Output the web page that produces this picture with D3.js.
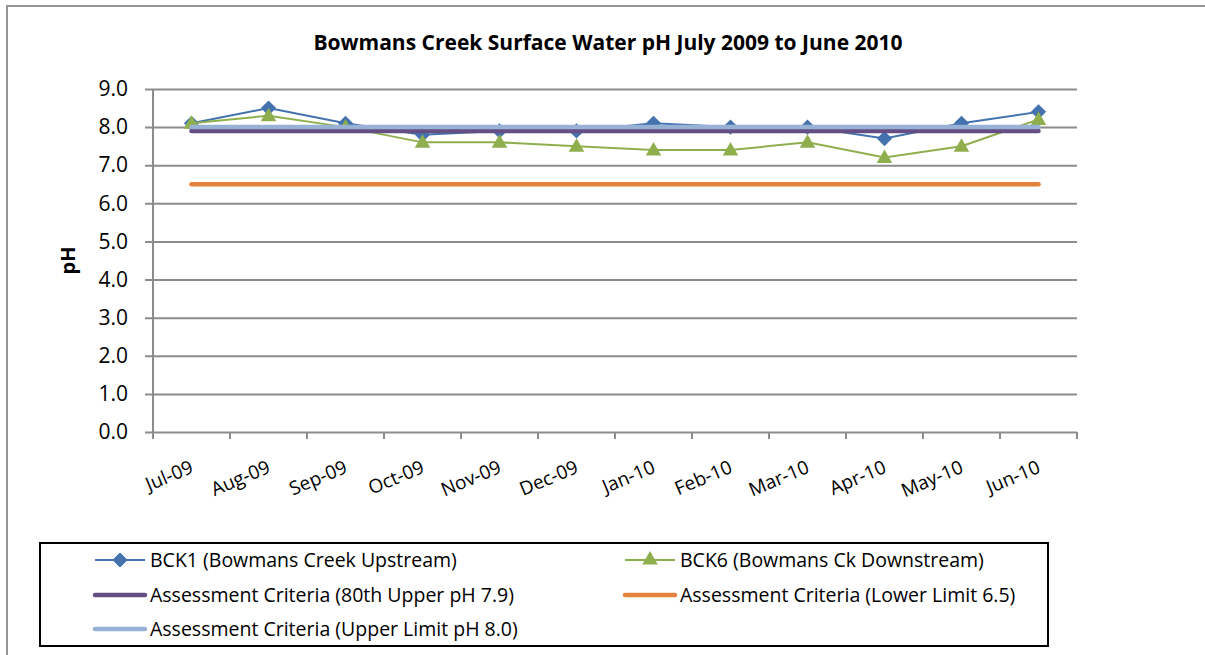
<!DOCTYPE html>
<html>
<head>
<meta charset="utf-8">
<script src="https://cdn.jsdelivr.net/npm/d3@7"></script>
<style>
  html, body { margin: 0; padding: 0; background: #fff; }
  svg { display: block; font-family: "Open Sans", "Noto Sans", sans-serif; }
</style>
</head>
<body>
<svg id="chart" width="1205" height="655"></svg>
<script>
// Monthly sampling dates
const months = ["Jul-09", "Aug-09", "Sep-09", "Oct-09", "Nov-09", "Dec-09",
                "Jan-10", "Feb-10", "Mar-10", "Apr-10", "May-10", "Jun-10"];

// Field pH readings
const bck1 = [8.1, 8.5, 8.1, 7.8, 7.9, 7.9, 8.1, 8.0, 8.0, 7.7, 8.1, 8.4];
const bck6 = [8.1, 8.3, 8.0, 7.6, 7.6, 7.5, 7.4, 7.4, 7.6, 7.2, 7.5, 8.2];

// Assessment criteria levels
const criteria80thUpper = 7.9;
const criteriaLowerLimit = 6.5;
const criteriaUpperLimit = 8.0;

const yTicks = [0, 1, 2, 3, 4, 5, 6, 7, 8, 9];

const titleText = "Bowmans Creek Surface Water pH July 2009 to June 2010";
const yAxisTitle = "pH";

const seriesNames = [
  "BCK1 (Bowmans Creek Upstream)",
  "BCK6 (Bowmans Ck Downstream)",
  "Assessment Criteria (80th Upper pH 7.9)",
  "Assessment Criteria (Lower Limit 6.5)",
  "Assessment Criteria (Upper Limit pH 8.0)"
];

const colors = {
  bck1: "#4372AE",
  bck6: "#8FAF4E",
  upper80: "#654E83",
  lower: "#E2823C",
  upper: "#98B2D6",
  grid: "#8C8C8C",
  text: "#000"
};

const svg = d3.select("#chart");

// chart outer frame
svg.append("rect")
  .attr("x", 7).attr("y", 6)
  .attr("width", 1400).attr("height", 900)
  .attr("fill", "#fff")
  .attr("stroke", "#959595")
  .attr("stroke-width", 2);

const plot = { left: 153, right: 1077, top: 89, bottom: 432 };

const x = d3.scaleBand().domain(months).range([plot.left, plot.right]);
const cx = m => x(m) + x.bandwidth() / 2;
const y = d3.scaleLinear().domain([0, 9]).range([plot.bottom, plot.top]);

// title
svg.append("text")
  .attr("x", 608).attr("y", 50)
  .attr("text-anchor", "middle")
  .attr("font-weight", "bold")
  .attr("font-size", 21)
  .attr("fill", colors.text)
  .text(titleText);

// horizontal gridlines + y axis
const yAxis = d3.axisLeft(y)
  .tickValues(yTicks)
  .tickFormat(d3.format(".1f"))
  .tickSize(-(plot.right - plot.left))
  .tickPadding(25);

const gy = svg.append("g")
  .attr("transform", `translate(${plot.left},0)`)
  .call(yAxis);
gy.select(".domain").remove();
gy.selectAll(".tick line")
  .attr("stroke", colors.grid)
  .attr("stroke-width", 2)
  .attr("x1", -8);
gy.selectAll(".tick text")
  .attr("font-size", 21)
  .attr("font-family", "'Open Sans', sans-serif")
  .attr("fill", colors.text);

// vertical axis line
svg.append("line")
  .attr("x1", plot.left).attr("x2", plot.left)
  .attr("y1", plot.top).attr("y2", plot.bottom + 1)
  .attr("stroke", colors.grid).attr("stroke-width", 2);

// category tick marks at band edges
const edges = months.map(m => x(m)).concat([plot.right]);
svg.append("g").selectAll("line")
  .data(edges)
  .join("line")
  .attr("x1", d => d).attr("x2", d => d)
  .attr("y1", plot.bottom).attr("y2", plot.bottom + 7)
  .attr("stroke", colors.grid).attr("stroke-width", 2);

// category labels, rotated
svg.append("g").selectAll("text")
  .data(months)
  .join("text")
  .attr("transform", d => `translate(${cx(d) + 3},${plot.bottom + 40}) rotate(-23)`)
  .attr("text-anchor", "end")
  .attr("font-size", 19)
  .attr("fill", colors.text)
  .text(d => d);

// y axis title
svg.append("text")
  .attr("transform", `translate(75,${(plot.top + plot.bottom) / 2}) rotate(-90)`)
  .attr("text-anchor", "middle")
  .attr("font-weight", "bold")
  .attr("font-size", 20)
  .attr("fill", colors.text)
  .text(yAxisTitle);

const line = d3.line().x(d => cx(d.m)).y(d => y(d.v));
const toPts = vals => months.map((m, i) => ({ m, v: vals[i] }));
const flat = v => months.map(m => ({ m, v }));

// square turned 45 degrees gives the diamond marker
const diamond = d3.symbol().type(d3.symbolSquare).size(115);
const triangle = d3.symbol().type(d3.symbolTriangle).size(105);

// BCK1
svg.append("path")
  .attr("d", line(toPts(bck1)))
  .attr("fill", "none").attr("stroke", colors.bck1).attr("stroke-width", 2);
svg.append("g").selectAll("path")
  .data(toPts(bck1))
  .join("path")
  .attr("transform", d => `translate(${cx(d.m)},${y(d.v)}) rotate(45)`)
  .attr("d", diamond)
  .attr("fill", colors.bck1);

// BCK6
svg.append("path")
  .attr("d", line(toPts(bck6)))
  .attr("fill", "none").attr("stroke", colors.bck6).attr("stroke-width", 2);
svg.append("g").selectAll("path")
  .data(toPts(bck6))
  .join("path")
  .attr("transform", d => `translate(${cx(d.m)},${y(d.v) + 1})`)
  .attr("d", triangle)
  .attr("fill", colors.bck6);

// criteria lines
[[criteria80thUpper, colors.upper80],
 [criteriaLowerLimit, colors.lower],
 [criteriaUpperLimit, colors.upper]].forEach(([v, c]) => {
  svg.append("path")
    .attr("d", line(flat(v)))
    .attr("fill", "none")
    .attr("stroke", c)
    .attr("stroke-width", 4.5)
    .attr("stroke-linecap", "round");
});

// legend
const legend = svg.append("g");
legend.append("rect")
  .attr("x", 40).attr("y", 543)
  .attr("width", 1008).attr("height", 103)
  .attr("fill", "#fff")
  .attr("stroke", "#000").attr("stroke-width", 2);

const legendItems = [
  { name: seriesNames[0], color: colors.bck1, w: 2, marker: diamond, rot: 45, col: 0, row: 0 },
  { name: seriesNames[1], color: colors.bck6, w: 2, marker: triangle, rot: 0, col: 1, row: 0 },
  { name: seriesNames[2], color: colors.upper80, w: 4.5, marker: null, col: 0, row: 1 },
  { name: seriesNames[3], color: colors.lower, w: 4.5, marker: null, col: 1, row: 1 },
  { name: seriesNames[4], color: colors.upper, w: 4.5, marker: null, col: 0, row: 2 }
];
const colX = [95, 625];
const rowY = [560, 595, 629];

const li = legend.selectAll("g.item")
  .data(legendItems)
  .join("g")
  .attr("class", "item")
  .attr("transform", d => `translate(${colX[d.col]},${rowY[d.row]})`);
li.append("line")
  .attr("x1", 0).attr("x2", 50)
  .attr("stroke", d => d.color)
  .attr("stroke-width", d => d.w)
  .attr("stroke-linecap", d => d.marker ? "butt" : "round");
li.filter(d => d.marker)
  .append("path")
  .attr("transform", d => `translate(25,0) rotate(${d.rot})`)
  .attr("d", d => d.marker())
  .attr("fill", d => d.color);
li.append("text")
  .attr("x", 55).attr("dy", "0.35em")
  .attr("font-size", 19.5)
  .attr("fill", colors.text)
  .text(d => d.name);
</script>
</body>
</html>
